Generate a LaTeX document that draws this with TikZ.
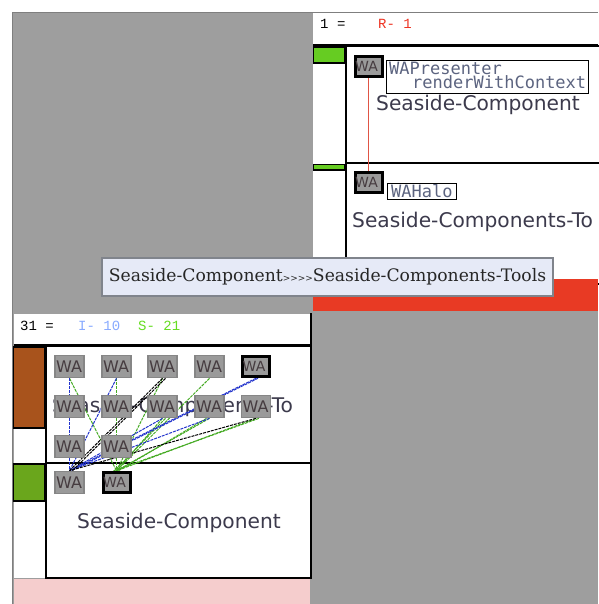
\documentclass[tikz,border=0pt]{standalone}
\usepackage{fontspec}
\setmainfont{DejaVu Sans}
\newfontfamily\tipf{DejaVu Serif}
\newfontfamily\monof{DejaVu Sans Mono}
\newfontfamily\hdrf{Liberation Mono}
\pgfdeclarelayer{back}
\pgfdeclarelayer{edgelayer}
\pgfsetlayers{back,edgelayer,main}
\definecolor{bg}{HTML}{9E9E9E}
\definecolor{bgedge}{HTML}{7F7F7F}
\definecolor{nodefill}{HTML}{9A9A9A}
\definecolor{nodeedge}{HTML}{868686}
\definecolor{txt}{HTML}{3C3A4C}
\definecolor{watxt}{HTML}{463C40}
\definecolor{lbl}{HTML}{5C6480}
\definecolor{greenA}{HTML}{66CC22}
\definecolor{greenB}{HTML}{6AA61C}
\definecolor{brownA}{HTML}{A8531C}
\definecolor{redbar}{HTML}{E83A24}
\definecolor{pinkbar}{HTML}{F5CDCD}
\definecolor{tipfill}{HTML}{E6EAF7}
\definecolor{tipedge}{HTML}{80848C}
\definecolor{eblue}{HTML}{2233CC}
\definecolor{egreen}{HTML}{44AA22}
\definecolor{ered}{HTML}{E05545}
\definecolor{hdrblue}{HTML}{88AAFF}
\definecolor{hdrgreen}{HTML}{66DD22}
\definecolor{hdrred}{HTML}{EE3322}
\newcommand{\wanode}[4]{%
  \node[#4] (#1) at (#2,#3) {};
  \begin{scope}
    \clip ([shift={(1.6pt,1.6pt)}]#1.south west) rectangle ([shift={(-1.6pt,-1.6pt)}]#1.north east);
    \node[#4text, anchor=west] (#1t) at ([xshift=1.5pt]#1.west) {WA};
  \end{scope}
  \ifx#4wathick\draw[black,line width=3pt] (#1.south west) rectangle (#1.north east);\fi
}
\begin{document}
\begin{tikzpicture}[x=1pt,y=-1pt,
  wabox/.style={draw=nodeedge, fill=nodefill, line width=1.2pt, minimum width=29pt, minimum height=22.5pt, inner sep=0pt},
  wathick/.style={draw=black, fill=nodefill, line width=3pt, minimum width=27pt, minimum height=20.5pt, inner sep=0pt},
  waboxtext/.style={inner sep=0pt, text=watxt, font=\fontsize{16}{16}\selectfont},
  wathicktext/.style={inner sep=0pt, text=watxt, font=\fontsize{14}{14}\selectfont},
  edgeline/.style={line width=1pt, dash pattern=on 3pt off 1pt},
  hdr/.style={inner sep=0pt, font=\hdrf\fontsize{14}{14}\selectfont},
  bigtext/.style={inner sep=0pt, text=txt, font=\fontsize{20.2}{20}\selectfont},
  lbltext/.style={inner sep=0pt, text=lbl, font=\monof\fontsize{17}{16}\selectfont},
  tipbox/.style={draw=tipedge, fill=tipfill, line width=1.5pt, minimum width=451pt, minimum height=38pt, inner sep=0pt, text=black!85, font=\tipf\fontsize{17.2}{17}\selectfont}
]
\useasboundingbox (0,0) rectangle (598,604);
\begin{pgfonlayer}{back}
  \fill[white] (0,0) rectangle (598,604);
  \fill[bg] (12,12) rectangle (598,604);
  \draw[bgedge,line width=1.5pt] (12.5,604) -- (12.5,12.5) -- (598,12.5);
  % top-right panel
  \fill[white] (313,13.5) rectangle (598,279);
  \draw[line width=2pt] (313,45.5) -- (598,45.5);
  \draw[line width=2pt] (346,46) rectangle (601,163);
  \draw[line width=2pt] (346,163) rectangle (601,284);
  \filldraw[fill=greenA, draw=black, line width=1.2pt] (313.6,47) rectangle (345,63);
  \filldraw[fill=greenA, draw=black, line width=1.2pt] (313.6,164.5) rectangle (345,170);
  \fill[redbar] (313,279) rectangle (598,311);
  \node[hdr, anchor=base west] (h1) at (320,29) {1 =};
  \node[hdr, text=hdrred, anchor=base west] (h2) at (378,29) {R- 1};
  \node[bigtext, anchor=base west] (s1) at (376,111) {Seaside-Component};
  \node[bigtext, anchor=base west] (s2) at (352,227) {Seaside-Components-To};
  % bottom-left panel
  \fill[white] (13.5,313.5) rectangle (311,578);
  \draw[line width=2pt] (13.5,345) -- (311,345);
  \draw[line width=2pt] (311,313) -- (311,579);
  \draw[line width=2pt] (46,346) rectangle (311,463);
  \draw[line width=2pt] (46,463) rectangle (311,578);
  \filldraw[fill=brownA, draw=black, line width=1.2pt] (13.6,347) rectangle (45,428);
  \filldraw[fill=greenB, draw=black, line width=1.2pt] (13.6,464) rectangle (45,501);
  \fill[pinkbar] (13.5,579) rectangle (310,604);
  \node[hdr, anchor=base west] (h3) at (20,330.5) {31 =};
  \node[hdr, text=hdrblue, anchor=base west] (h4) at (78,330.5) {I- 10};
  \node[hdr, text=hdrgreen, anchor=base west] (h5) at (138,330.5) {S- 21};
  \node[bigtext, anchor=base west] (s3) at (52,412) {Seaside-Components-To};
  \node[bigtext, anchor=base west] (s4) at (77,528) {Seaside-Component};
\end{pgfonlayer}
% top-right nodes
\wanode{r1}{368.5}{66.5}{wathick}
\wanode{r2}{368.5}{182.5}{wathick}
\node[draw=black, fill=white, line width=1.2pt, minimum width=202pt, minimum height=33pt, anchor=north west, inner sep=0pt] (lb1) at (386,60) {};
\node[lbltext, anchor=base west] (lb1a) at (389,75) {WAPresenter};
\node[lbltext, anchor=base west] (lb1b) at (412,89) {renderWithContext};
\node[draw=black, fill=white, line width=1.2pt, minimum width=69pt, minimum height=16pt, anchor=north west, inner sep=0pt] (lb2) at (387,183) {};
\begin{scope}
  \clip ([shift={(0.6pt,0.6pt)}]lb2.south west) rectangle ([shift={(-0.6pt,-0.6pt)}]lb2.north east);
  \node[lbltext, anchor=base west] (lb2a) at (391,197.5) {WAHalo};
\end{scope}
% bottom-left nodes
\wanode{a1}{69.5}{366.5}{wabox}
\wanode{a2}{116.5}{366.5}{wabox}
\wanode{a3}{162.5}{366.5}{wabox}
\wanode{a4}{209.5}{366.5}{wabox}
\wanode{a5}{256}{366.5}{wathick}
\wanode{b1}{69.5}{406.5}{wabox}
\wanode{b2}{116.5}{406.5}{wabox}
\wanode{b3}{162.5}{406.5}{wabox}
\wanode{b4}{209.5}{406.5}{wabox}
\wanode{b5}{256}{406.5}{wabox}
\wanode{c1}{69.5}{446.5}{wabox}
\wanode{c2}{116.5}{446.5}{wabox}
\wanode{t1}{69.5}{482.5}{wabox}
\wanode{t2}{116.5}{482.5}{wathick}
% connectors
\begin{pgfonlayer}{edgelayer}
  \draw[ered, line width=1pt] (r1.south) -- (r2.north);
  \foreach \s in {a1,a2,a3,a4,b2,b3,b4,b5} {
    \draw[edgeline, egreen] (\s.south) -- (t2.north);
  }
  \draw[edgeline, egreen] ([xshift=3pt]b3.south) -- ([xshift=-2pt]t2.north);
  \draw[edgeline, egreen] ([xshift=-3pt]b4.south) -- ([xshift=2pt]t2.north);
  \draw[edgeline, egreen] ([xshift=3pt]b5.south) -- ([xshift=-3pt]t2.north);
  \foreach \s in {a1,a2,b3,b4} {
    \draw[edgeline, eblue] (\s.south) -- (t1.north);
  }
  \draw[edgeline, eblue] (a5.south) -- (t1.north);
  \draw[edgeline, eblue] ([xshift=2pt]a5.south) -- ([xshift=2pt]t1.north);
  \draw[edgeline, black] (a3.south) -- (t1.north);
  \draw[edgeline, black] ([xshift=3pt]a3.south) -- ([xshift=3pt]t1.north);
  \draw[edgeline, black] (b5.south) -- (t1.north);
\end{pgfonlayer}
% tooltip
\node[tipbox] (tip) at (327.5,277) {Seaside-Component\raisebox{0.5pt}{\fontsize{9}{9}\selectfont >>>>}Seaside-Components-Tools};
\end{tikzpicture}
\end{document}
